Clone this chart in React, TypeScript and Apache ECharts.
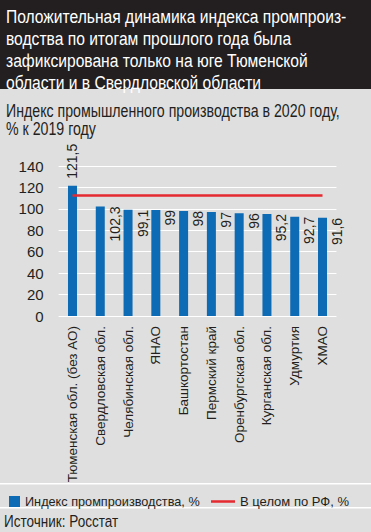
import React, { useEffect, useRef } from "react";
import * as echarts from "echarts";

const categories = [
  "Тюменская обл. (без АО)",
  "Свердловская обл.",
  "Челябинская обл.",
  "ЯНАО",
  "Башкортостан",
  "Пермский край",
  "Оренбургская обл.",
  "Курганская обл.",
  "Удмуртия",
  "ХМАО",
];
const indexValues = [121.5, 102.3, 99.1, 99, 98, 97, 96, 95.2, 92.7, 91.6];
const rfValues = [112.5, 112.5, 112.5, 112.5, 112.5, 112.5, 112.5, 112.5, 112.5, 112.5];
const yTicks = { min: 0, max: 140, interval: 20 };

const titleLines = [
  "Положительная динамика индекса промпроиз-",
  "водства по итогам прошлого года была",
  "зафиксирована только на юге Тюменской",
  "области и в Свердловской области",
];
const subtitleLines = ["Индекс промышленного производства в 2020 году,", "% к 2019 году"];
const seriesNames = ["Индекс промпроизводства, %", "В целом по РФ, %"];
const sourceText = "Источник: Росстат";

const FONT = "'Liberation Sans Narrow', 'Liberation Sans', Roboto, sans-serif";
const DARK = "#231f20";
const BLUE = "#0d6ab4";
const RED = "#e52a30";

export default function App() {
  const ref = useRef<HTMLDivElement>(null);
  useEffect(() => {
    if (!ref.current) return;
    const chart = echarts.init(ref.current, null, { renderer: "svg" });
    const fmt = (v: number) => String(v).replace(".", ",");
    const barData = indexValues.map((v, i) =>
      i === 0
        ? {
            value: v,
            label: {
              position: "top",
              rotate: 90,
              align: "left",
              verticalAlign: "middle",
              distance: 7,
            },
          }
        : v
    );
    chart.setOption({
      animation: false,
      backgroundColor: "#dfdfdf",
      textStyle: { fontFamily: FONT },
      graphic: [
        { type: "rect", shape: { x: 0, y: 0, width: 371, height: 89 }, style: { fill: DARK }, z: -1 },
        {
          type: "text",
          x: 6,
          y: 5,
          scaleX: 0.823,
          style: {
            text: titleLines.join("\n"),
            fill: "#ffffff",
            font: `19px ${FONT}`,
            lineHeight: 22,
            verticalAlign: "top",
          },
        },
        {
          type: "text",
          x: 6,
          y: 101,
          scaleX: 0.767,
          style: {
            text: subtitleLines.join("\n"),
            fill: DARK,
            font: `18.5px ${FONT}`,
            lineHeight: 18.3,
            verticalAlign: "top",
          },
        },
        { type: "rect", shape: { x: 0, y: 483, width: 371, height: 1.5 }, style: { fill: "#ffffff" } },
        { type: "rect", shape: { x: 0, y: 507, width: 371, height: 1.5 }, style: { fill: "#ffffff" } },
        {
          type: "text",
          x: 4,
          y: 512,
          scaleX: 0.82,
          style: {
            text: sourceText,
            fill: DARK,
            font: `16.5px ${FONT}`,
            lineHeight: 18,
            verticalAlign: "top",
          },
        },
      ],
      legend: [
        {
          data: [{ name: seriesNames[0], icon: "rect" }],
          left: 4,
          top: 490,
          itemWidth: 11,
          itemHeight: 11,
          textStyle: { fontFamily: FONT, fontSize: 12.7, color: DARK },
          selectedMode: false,
        },
        {
          data: [{ name: seriesNames[1], icon: "rect" }],
          left: 206,
          top: 490,
          itemWidth: 24,
          itemHeight: 2.5,
          textStyle: { fontFamily: FONT, fontSize: 13, color: DARK },
          selectedMode: false,
        },
      ],
      grid: { left: 58.6, right: 34.6, top: 166, bottom: 216 },
      xAxis: {
        type: "category",
        data: categories,
        axisLine: { show: false },
        axisTick: { show: false },
        axisLabel: {
          rotate: 90,
          interval: 0,
          margin: 10,
          fontFamily: FONT,
          fontSize: 13.5,
          color: DARK,
        },
      },
      yAxis: {
        type: "value",
        min: yTicks.min,
        max: yTicks.max,
        interval: yTicks.interval,
        axisLine: { show: false },
        axisTick: { show: false },
        axisLabel: { fontFamily: FONT, fontSize: 15, color: DARK, margin: 15 },
        splitLine: { lineStyle: { color: "#ffffff", width: 1.2 } },
      },
      series: [
        {
          name: seriesNames[0],
          type: "bar",
          data: barData,
          barWidth: 9,
          itemStyle: { color: BLUE },
          label: {
            show: true,
            formatter: (p: any) => fmt(p.value),
            position: ["100%", 0],
            rotate: 90,
            align: "right",
            verticalAlign: "top",
            padding: [3, 0, 0, 0],
            fontFamily: FONT,
            fontSize: 14,
            color: DARK,
          },
          z: 2,
        },
        {
          name: seriesNames[1],
          type: "line",
          data: rfValues,
          symbol: "none",
          lineStyle: { color: RED, width: 2.5 },
          itemStyle: { color: RED },
          z: 3,
        },
      ],
    });
    return () => chart.dispose();
  }, []);
  return (
    <div
      ref={ref}
      style={{ position: "fixed", left: 0, top: 0, width: 371, height: 532 }}
    />
  );
}
